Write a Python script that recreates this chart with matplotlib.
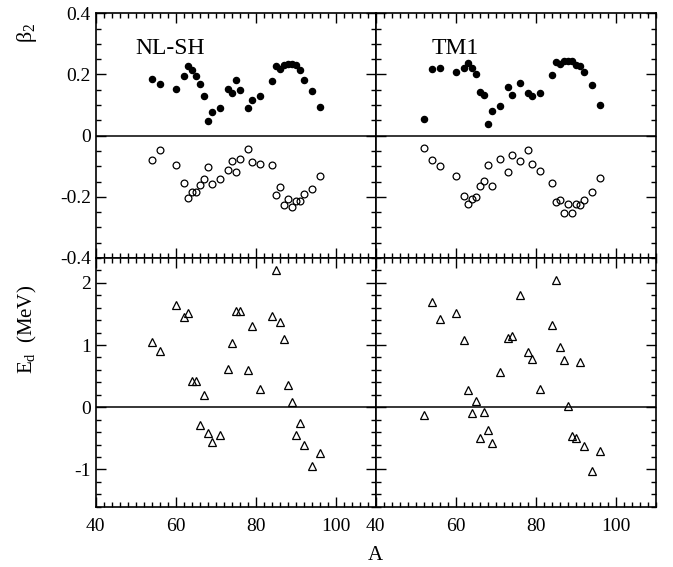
import matplotlib
matplotlib.use('Agg')
import matplotlib.pyplot as plt
from matplotlib.ticker import MultipleLocator

plt.rcParams['font.family'] = ['Liberation Serif', 'DejaVu Serif']
plt.rcParams['mathtext.fontset'] = 'custom'
plt.rcParams['mathtext.rm'] = 'Liberation Serif'
plt.rcParams['mathtext.it'] = 'Liberation Serif'

# Mass numbers
A_nlsh = [54, 56, 60, 62, 63, 64, 65, 66, 67, 68, 69, 71, 73, 74, 75, 76, 78, 79, 81,
          84, 85, 86, 87, 88, 89, 90, 91, 92, 94, 96]
A_tm1 = [52, 54, 56, 60, 62, 63, 64, 65, 66, 67, 68, 69, 71, 73, 74, 76, 78, 79, 81,
         84, 85, 86, 87, 88, 89, 90, 91, 92, 94, 96]

# NL-SH: prolate / oblate beta2 and E_d
nlsh_prolate = [0.186, 0.170, 0.152, 0.195, 0.227, 0.214, 0.196, 0.169, 0.128, 0.047,
                0.078, 0.092, 0.154, 0.138, 0.183, 0.148, 0.091, 0.117, 0.130,
                0.178, 0.229, 0.218, 0.230, 0.234, 0.234, 0.230, 0.213, 0.183, 0.146, 0.095]
nlsh_oblate = [-0.080, -0.046, -0.095, -0.154, -0.203, -0.185, -0.185, -0.160, -0.141, -0.104,
               -0.158, -0.142, -0.113, -0.083, -0.120, -0.076, -0.044, -0.086, -0.094,
               -0.095, -0.194, -0.168, -0.227, -0.206, -0.232, -0.215, -0.213, -0.191, -0.175, -0.133]
nlsh_ed = [1.05, 0.91, 1.64, 1.45, 1.52, 0.42, 0.42, -0.28, 0.19, -0.42,
           -0.56, -0.44, 0.62, 1.04, 1.55, 1.55, 0.60, 1.31, 0.30,
           1.46, 2.20, 1.37, 1.09, 0.35, 0.09, -0.45, -0.26, -0.61, -0.94, -0.73]

# TM1: prolate / oblate beta2 and E_d
tm1_prolate = [0.054, 0.217, 0.222, 0.208, 0.222, 0.237, 0.222, 0.201, 0.143, 0.132,
               0.037, 0.080, 0.096, 0.160, 0.133, 0.173, 0.141, 0.128, 0.140,
               0.198, 0.240, 0.234, 0.243, 0.243, 0.243, 0.230, 0.229, 0.209, 0.166, 0.099]
tm1_oblate = [-0.040, -0.081, -0.099, -0.133, -0.197, -0.222, -0.206, -0.200, -0.166, -0.149,
              -0.097, -0.166, -0.077, -0.118, -0.063, -0.083, -0.047, -0.094, -0.117,
              -0.154, -0.217, -0.209, -0.252, -0.225, -0.252, -0.223, -0.228, -0.209, -0.185, -0.138]
tm1_ed = [-0.13, 1.70, 1.42, 1.52, 1.08, 0.27, -0.09, 0.10, -0.50, -0.07,
          -0.36, -0.57, 0.57, 1.11, 1.14, 1.80, 0.89, 0.78, 0.30,
          1.32, 2.04, 0.97, 0.76, 0.02, -0.47, -0.50, 0.73, -0.62, -1.03, -0.71]

W, H = 673, 567
fig = plt.figure(figsize=(W / 100, H / 100), dpi=100)

def box(x0, y0, x1, y1):
    # pixel box (top-left origin) -> figure fraction
    return [x0 / W, 1 - y1 / H, (x1 - x0) / W, (y1 - y0) / H]

ax_tl = fig.add_axes(box(95.7, 13.3, 375.7, 258))
ax_tr = fig.add_axes(box(375.7, 13.3, 655.7, 258))
ax_bl = fig.add_axes(box(95.7, 258, 375.7, 506.7))
ax_br = fig.add_axes(box(375.7, 258, 655.7, 506.7))

for ax in [ax_tl, ax_tr, ax_bl, ax_br]:
    ax.set_xlim(40, 110)
    ax.xaxis.set_major_locator(MultipleLocator(20))
    ax.xaxis.set_minor_locator(MultipleLocator(2))
    ax.tick_params(which='both', direction='in', top=True, right=True, labelsize=14, width=1)
    ax.tick_params(which='major', length=7)
    ax.tick_params(which='minor', length=3.5)
    ax.tick_params(axis='x', which='major', pad=8)
    ax.axhline(0, color='black', linewidth=1.1)
    for s in ax.spines.values():
        s.set_linewidth(1.2)

for ax in [ax_tl, ax_tr]:
    ax.set_ylim(-0.4, 0.4)
    ax.yaxis.set_major_locator(MultipleLocator(0.2))
    ax.yaxis.set_minor_locator(MultipleLocator(0.05))
    ax.tick_params(labelbottom=False)

for ax in [ax_bl, ax_br]:
    ax.set_ylim(-1.6, 2.4)
    ax.yaxis.set_major_locator(MultipleLocator(1))
    ax.yaxis.set_minor_locator(MultipleLocator(0.2))

for ax in [ax_tr, ax_br]:
    ax.tick_params(labelleft=False)

ax_tl.set_yticks([-0.4, -0.2, 0, 0.2, 0.4])
ax_tl.set_yticklabels(['-0.4', '-0.2', '0', '0.2', '0.4'])
ax_bl.set_yticks([-1, 0, 1, 2])
ax_bl.set_yticklabels(['-1', '0', '1', '2'])

# Top panels: beta2
ax_tl.plot(A_nlsh, nlsh_prolate, 'o', color='black', markersize=4.4, linestyle='none')
ax_tl.plot(A_nlsh, nlsh_oblate, 'o', markerfacecolor='none', markeredgecolor='black',
           markersize=4.9, markeredgewidth=0.9, linestyle='none')
ax_tr.plot(A_tm1, tm1_prolate, 'o', color='black', markersize=4.4, linestyle='none')
ax_tr.plot(A_tm1, tm1_oblate, 'o', markerfacecolor='none', markeredgecolor='black',
           markersize=4.9, markeredgewidth=0.9, linestyle='none')

# Bottom panels: E_d
ax_bl.plot(A_nlsh, nlsh_ed, '^', markerfacecolor='none', markeredgecolor='black',
           markersize=5.2, markeredgewidth=0.9, linestyle='none')
ax_br.plot(A_tm1, tm1_ed, '^', markerfacecolor='none', markeredgecolor='black',
           markersize=5.2, markeredgewidth=0.9, linestyle='none')

ax_tl.text(0.14, 0.855, 'NL-SH', transform=ax_tl.transAxes, fontsize=17, va='center')
ax_tr.text(0.2, 0.855, 'TM1', transform=ax_tr.transAxes, fontsize=17, va='center')

fig.text(27 / W, 1 - 33 / H, r'$\beta_2$', rotation=90, fontsize=16, ha='center', va='center')
fig.text(27 / W, 1 - 329 / H, r'E$_\mathrm{d}$  (MeV)', rotation=90, fontsize=15,
         ha='center', va='center')
fig.text(375.7 / W, 1 - 555 / H, 'A', fontsize=15, ha='center', va='center')

fig.savefig('out.png', dpi=100)
